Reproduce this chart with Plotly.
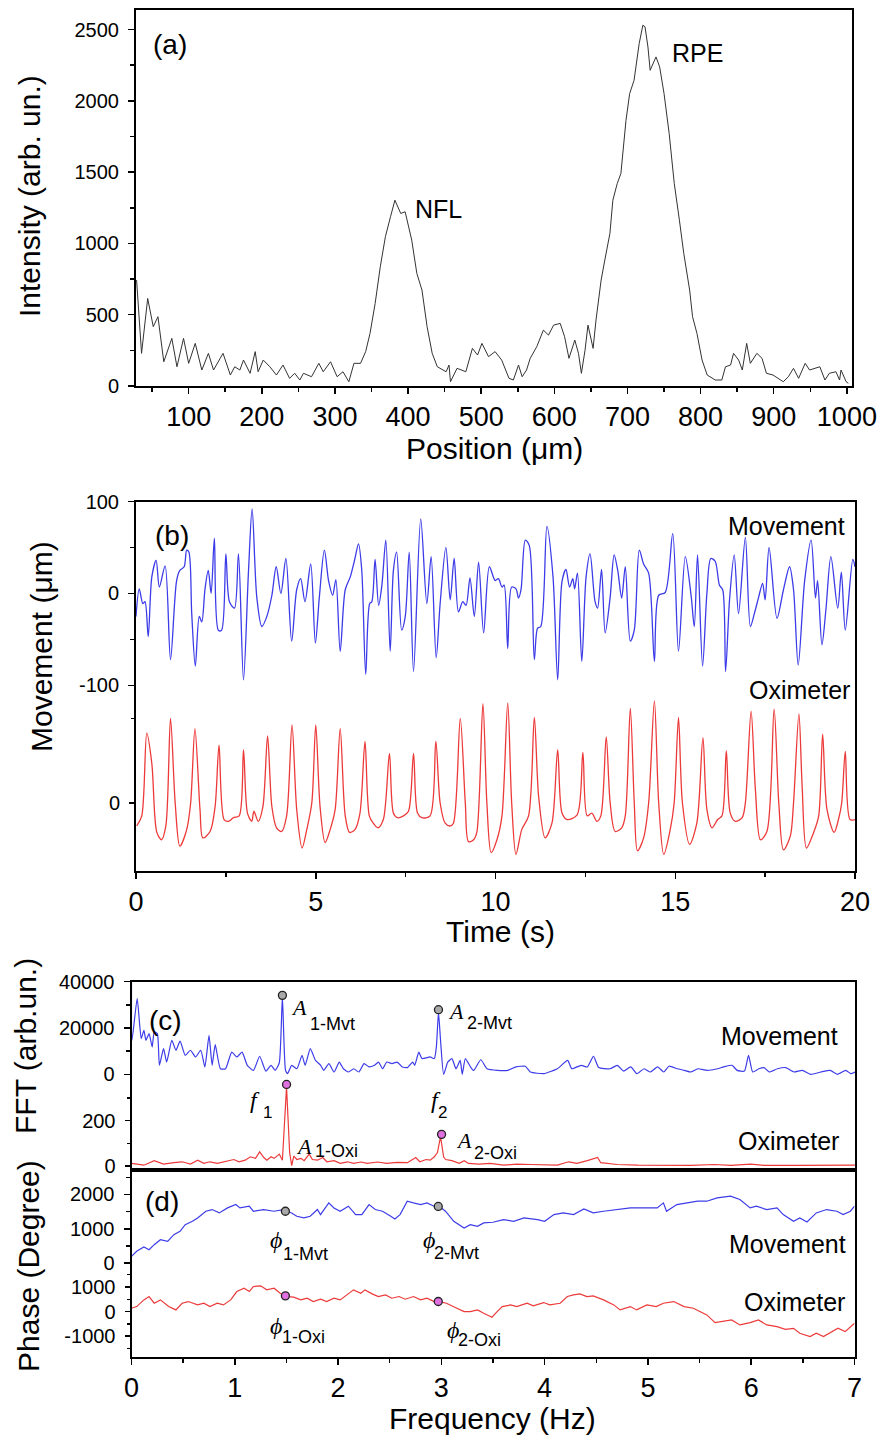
import plotly.graph_objects as go

W, H = 880, 1435

# ---------------- Panel (a): OCT depth profile ----------------
pos_um = [28.8, 35.6, 44, 51.6, 58, 66, 77, 84, 93, 100,
          109, 118, 127, 134, 147, 157, 163, 170, 175, 184,
          191, 195, 202, 211, 220, 229, 238, 245, 252, 257,
          268, 278, 284, 294, 303, 311, 319, 326, 335, 342,
          348, 355, 362, 369, 376, 382, 390, 396, 405, 412,
          419, 426, 433, 440, 452, 456, 458, 467, 479, 488,
          495, 501, 510, 519, 528, 538, 544, 551, 556, 562,
          567, 576, 585, 592, 599, 608, 614, 620, 628, 633,
          637, 642, 646, 653, 657, 664, 669, 676, 680, 686,
          691, 698, 703, 709, 716, 721, 724, 728, 731, 739,
          744, 750, 757, 764, 771, 777, 785, 789, 795, 802,
          809, 820, 829, 834, 841, 845, 852, 857, 863, 868,
          877, 884, 890, 899, 913, 920, 927, 934, 943, 949,
          963, 970, 976, 985, 990, 992, 999, 1002]
intensity = [743, 229, 614, 416, 486, 170, 334, 135, 334, 159,
             299, 112, 229, 112, 229, 77, 135, 112, 182, 89,
             241, 100, 182, 135, 77, 147, 54, 89, 42, 89,
             65, 159, 100, 170, 65, 100, 30, 159, 159, 241,
             369, 579, 836, 1047, 1187, 1303, 1210, 1222, 1023, 790,
             673, 416, 229, 135, 100, 147, 30, 124, 100, 264,
             217, 299, 206, 241, 182, 54, 42, 147, 65, 112,
             194, 276, 392, 357, 427, 439, 346, 194, 322, 229,
             89, 252, 427, 264, 463, 743, 883, 1070, 1303, 1420,
             1490, 1864, 2051, 2144, 2401, 2530, 2519, 2378, 2214, 2308,
             2238, 2051, 1771, 1420, 1163, 929, 673, 486, 369, 182,
             77, 42, 42, 135, 147, 229, 182, 112, 299, 159,
             229, 194, 89, 77, 30, 65, 124, 54, 159, 112,
             135, 42, 89, 100, 42, 112, 30, 19]
a_xticks = [100, 200, 300, 400, 500, 600, 700, 800, 900, 1000]
a_yticks = [0, 500, 1000, 1500, 2000, 2500]

# ---------------- Panel (b): time traces ----------------
mov_t = [0.00, 0.09, 0.19, 0.25, 0.34, 0.44, 0.56, 0.65, 0.81, 0.96,
         1.13, 1.22, 1.34, 1.41, 1.47, 1.55, 1.65, 1.76, 1.83, 1.92,
         2.01, 2.09, 2.18, 2.29, 2.38, 2.50, 2.60, 2.74, 2.85, 2.99,
         3.13, 3.23, 3.36, 3.50, 3.64, 3.78, 3.90, 4.03, 4.17, 4.33,
         4.47, 4.58, 4.70, 4.86, 4.99, 5.10, 5.24, 5.36, 5.47, 5.56,
         5.68, 5.82, 5.96, 6.09, 6.19, 6.28, 6.39, 6.50, 6.56, 6.65,
         6.75, 6.84, 6.95, 7.07, 7.16, 7.25, 7.39, 7.49, 7.60, 7.72,
         7.92, 8.09, 8.21, 8.35, 8.46, 8.62, 8.74, 8.85, 8.97, 9.09,
         9.18, 9.29, 9.41, 9.53, 9.67, 9.83, 9.99, 10.08, 10.18, 10.24,
         10.34, 10.45, 10.57, 10.64, 10.71, 10.83, 10.94, 11.08, 11.17, 11.26,
         11.43, 11.60, 11.73, 11.85, 11.96, 12.06, 12.15, 12.20, 12.28, 12.40,
         12.52, 12.63, 12.77, 12.84, 12.95, 13.05, 13.19, 13.30, 13.40, 13.51,
         13.61, 13.75, 13.86, 14.00, 14.12, 14.26, 14.42, 14.54, 14.72, 14.93,
         15.09, 15.28, 15.44, 15.53, 15.62, 15.76, 15.88, 15.99, 16.11, 16.23,
         16.32, 16.40, 16.51, 16.64, 16.76, 16.95, 17.09, 17.20, 17.32, 17.43,
         17.50, 17.61, 17.83, 18.01, 18.18, 18.29, 18.42, 18.60, 18.78, 18.90,
         18.96, 19.08, 19.19, 19.33, 19.52, 19.62, 19.73, 19.94, 20.00]
mov_um = [-25, 5, -11, -9, -47, 18, 36, 7, 30, -72,
          14, 25, 29, 47, 45, -22, -79, -25, -31, 5,
          25, 0, 60, -40, -40, 43, -9, -16, 43, -94,
          25, 92, -4, -36, -25, -2, 29, 0, 38, -52,
          4, 16, -9, 32, -54, -4, 47, 13, -2, 15,
          -63, 4, 18, 38, 54, 25, -88, -11, -9, 37,
          -13, 9, 58, -63, 25, 45, -40, -25, 45, -85,
          81, -11, 40, -70, -11, 50, -7, 38, -20, -9,
          -13, 17, -25, 34, -43, 29, 14, 16, 7, 9,
          -60, 7, 5, -5, 4, 58, 52, -72, -38, -36,
          73, 18, -94, 13, 26, 7, 16, 5, 22, -74,
          18, 43, -9, -16, 26, -43, -4, 42, 25, -5,
          29, -52, -40, 47, 32, 22, -74, -2, 1, 65,
          -63, 40, -2, -36, 42, -79, 0, 38, 35, 9,
          4, -85, -7, 42, -22, 61, -36, -22, -4, 11,
          -7, 50, -27, 4, 29, 4, -78, 14, 58, -5,
          14, -56, -18, 40, -16, 23, -40, 37, 29]

oxi_t = [0.02, 0.16, 0.30, 0.44, 0.58, 0.71, 0.83, 0.96, 1.09, 1.22,
         1.41, 1.52, 1.64, 1.78, 1.86, 2.06, 2.20, 2.31, 2.45, 2.57,
         2.71, 2.87, 2.99, 3.10, 3.22, 3.28, 3.40, 3.53, 3.66, 3.78,
         3.91, 4.05, 4.19, 4.34, 4.47, 4.62, 4.75, 4.89, 5.00, 5.12,
         5.26, 5.40, 5.54, 5.68, 5.82, 5.94, 6.09, 6.23, 6.37, 6.49,
         6.60, 6.73, 6.88, 7.05, 7.16, 7.27, 7.44, 7.58, 7.72, 7.83,
         7.95, 8.18, 8.34, 8.46, 8.60, 8.74, 8.83, 9.02, 9.16, 9.25,
         9.39, 9.48, 9.65, 9.76, 9.88, 10.04, 10.18, 10.34, 10.45, 10.57,
         10.73, 10.92, 11.08, 11.20, 11.38, 11.57, 11.73, 11.85, 11.99, 12.27,
         12.43, 12.55, 12.68, 12.82, 12.93, 13.08, 13.19, 13.33, 13.51, 13.61,
         13.75, 13.86, 13.95, 14.12, 14.26, 14.42, 14.54, 14.68, 14.86, 14.97,
         15.09, 15.20, 15.40, 15.60, 15.77, 15.88, 16.02, 16.18, 16.30, 16.42,
         16.53, 16.67, 16.86, 16.95, 17.11, 17.23, 17.37, 17.55, 17.75, 17.88,
         18.01, 18.20, 18.29, 18.44, 18.53, 18.65, 18.85, 18.99, 19.10, 19.22,
         19.42, 19.54, 19.63, 19.73, 19.86, 20.00]
oxi_sig = [-25, -14, 76, 43, -32, -40, -25, 92, 0, -47,
           -29, 0, 81, -7, -38, -31, -4, 63, -18, -20,
           -16, -14, 58, -11, -20, -9, -20, -4, 73, -4,
           -27, -31, -14, 85, -7, -49, -29, 0, 85, -4,
           -43, -29, -7, 81, -14, -32, -29, -11, 67, -14,
           -22, -27, -18, 54, -11, -16, -14, -9, 54, -11,
           -16, -14, 67, 0, -22, -25, -22, 92, 0, -42,
           -40, -32, 108, 0, -54, -40, -14, 109, 0, -56,
           -29, -14, 93, 7, -38, -22, 58, -11, -18, -13,
           55, -14, -11, -20, -14, 72, 0, -31, -27, -14,
           103, 0, -52, -38, 0, 111, 0, -56, -29, 0,
           93, 0, -45, -22, 71, -7, -27, -18, -14, 57,
           -11, -20, -16, 0, 100, 14, -40, -31, 102, 0,
           -51, -36, 0, 97, 18, -49, -32, -14, 75, -7,
           -32, -18, 0, 56, -18, -18]
b_xticks = [0, 5, 10, 15, 20]
b_mov_ticks = [-100, 0, 100]
b_mov_ticktext = ["-100", "0", "100"]

# ---------------- Panel (c): FFT amplitude ----------------
fft_mvt_f = [0.000, 0.005, 0.055, 0.094, 0.12, 0.14, 0.17, 0.20, 0.22, 0.25,
             0.27, 0.31, 0.34, 0.39, 0.43, 0.47, 0.52, 0.57, 0.62, 0.67,
             0.71, 0.75, 0.78, 0.81, 0.86, 0.91, 0.97, 1.02, 1.07, 1.12,
             1.18, 1.24, 1.30, 1.35, 1.39, 1.43, 1.46, 1.49, 1.51, 1.55,
             1.60, 1.65, 1.68, 1.73, 1.78, 1.83, 1.86, 1.91, 1.96, 2.01,
             2.05, 2.10, 2.15, 2.20, 2.25, 2.30, 2.35, 2.39, 2.43, 2.47,
             2.52, 2.57, 2.62, 2.67, 2.72, 2.74, 2.78, 2.81, 2.86, 2.89,
             2.93, 2.95, 2.97, 2.99, 3.02, 3.06, 3.10, 3.14, 3.18, 3.20,
             3.23, 3.28, 3.31, 3.38, 3.44, 3.54, 3.64, 3.72, 3.81, 3.86,
             3.99, 4.12, 4.22, 4.26, 4.35, 4.41, 4.47, 4.52, 4.63, 4.70,
             4.76, 4.83, 4.89, 4.96, 5.02, 5.09, 5.15, 5.20, 5.28, 5.35,
             5.41, 5.48, 5.57, 5.67, 5.73, 5.81, 5.86, 5.93, 5.97, 6.01,
             6.07, 6.12, 6.17, 6.25, 6.33, 6.41, 6.49, 6.57, 6.67, 6.76,
             6.83, 6.91, 6.96, 7.00]
fft_mvt = [40000, 14700, 32700, 15400, 19000, 14700, 17600, 11800, 18300, 17600,
           3900, 11100, 5300, 14700, 10400, 14400, 8200, 10400, 7500, 10400,
           3200, 16800, 3900, 12800, 2400, 2400, 9600, 7500, 9600, 3900,
           1700, 7800, 1400, 3900, 1700, 5000, 33500, 1700, 300, 3900,
           2400, 8200, 3900, 11100, 6000, 3900, 1700, 4600, 1000, 5300,
           2400, 1000, 2400, 1000, 4600, 3200, 3900, 5300, 2400, 5300,
           4600, 5300, 3200, 2900, 5300, 3900, 9600, 6800, 7200, 7500,
           6800, 12000, 26800, 14700, 0, 5300, 6800, 2400, 6000, 0,
           6800, 3200, 1700, 6300, 2400, 1700, 1700, 3200, 3500, 1000,
           300, 2400, 6000, 2400, 3900, 3200, 7800, 2900, 2400, 3900,
           1400, 3200, 300, 2400, 1000, 3200, 1000, 3500, 2400, 1700,
           1000, 2400, 1700, 2400, 3200, 3900, 1700, 1400, 8200, 1000,
           2400, 2900, 1000, 2400, 2900, 1000, 1700, 0, 1000, 1700,
           0, 1700, 300, 1000]

fft_oxi_f = [0.00, 0.12, 0.22, 0.31, 0.41, 0.49, 0.57, 0.64, 0.70, 0.76,
             0.83, 0.89, 0.99, 1.04, 1.10, 1.15, 1.20, 1.24, 1.28, 1.31,
             1.35, 1.38, 1.43, 1.46, 1.50, 1.53, 1.55, 1.57, 1.60, 1.64,
             1.67, 1.72, 1.75, 1.80, 1.85, 1.89, 1.96, 2.02, 2.09, 2.15,
             2.22, 2.28, 2.38, 2.47, 2.57, 2.67, 2.75, 2.79, 2.85, 2.89,
             2.93, 2.96, 2.99, 3.02, 3.04, 3.10, 3.17, 3.22, 3.26, 3.36,
             3.47, 3.60, 3.73, 3.86, 3.99, 4.12, 4.23, 4.31, 4.41, 4.51,
             4.54, 4.70, 4.90, 5.15, 5.41, 5.64, 5.80, 5.99, 6.12, 6.44,
             6.76, 7.00]
fft_oxi = [12, 4, 24, 9, 15, 19, 9, 26, 12, 19,
           12, 19, 29, 19, 26, 41, 34, 63, 38, 26,
           41, 34, 53, 26, 350, 60, 2, 44, 29, 34,
           24, 53, 29, 26, 38, 19, 24, 12, 19, 12,
           18, 12, 18, 12, 16, 15, 38, 19, 29, 26,
           41, 60, 130, 40, 29, 24, 12, 24, 12, 9,
           12, 4, 9, 7, 4, 4, 19, 12, 24, 38,
           15, 7, 4, 4, 3, 7, 3, 9, 3, 3,
           3, 4]
c_mvt_ticks = [0, 20000, 40000]
c_mvt_ticktext = ["0", "20000", "40000"]
c_oxi_ticks = [0, 200]

# marked peaks
pk_mvt_f = [1.46, 2.97]
pk_mvt_a = [34100, 27900]
pk_oxi_f = [1.50, 3.00]
pk_oxi_a = [360, 140]

# ---------------- Panel (d): phase ----------------
ph_mvt_f = [0.00, 0.05, 0.12, 0.17, 0.22, 0.28, 0.35, 0.41, 0.47, 0.52,
            0.59, 0.64, 0.72, 0.78, 0.85, 0.93, 1.01, 1.05, 1.14, 1.18,
            1.28, 1.38, 1.47, 1.55, 1.60, 1.67, 1.73, 1.80, 1.83, 1.91,
            1.96, 2.02, 2.10, 2.17, 2.23, 2.30, 2.36, 2.43, 2.51, 2.55,
            2.60, 2.67, 2.73, 2.80, 2.86, 2.93, 2.98, 3.04, 3.12, 3.22,
            3.28, 3.35, 3.41, 3.50, 3.60, 3.70, 3.80, 3.93, 4.00, 4.09,
            4.18, 4.28, 4.38, 4.47, 4.57, 4.70, 4.83, 4.96, 5.09, 5.15,
            5.18, 5.28, 5.38, 5.48, 5.57, 5.67, 5.80, 5.89, 5.99, 6.05,
            6.15, 6.25, 6.31, 6.41, 6.47, 6.54, 6.63, 6.73, 6.83, 6.89,
            6.96, 7.00]
ph_mvt = [195, 341, 468, 390, 536, 682, 634, 829, 926, 1121,
          1218, 1316, 1511, 1560, 1462, 1608, 1706, 1608, 1657, 1511,
          1560, 1511, 1560, 1462, 1365, 1316, 1365, 1560, 1413, 1755,
          1608, 1511, 1657, 1413, 1413, 1706, 1560, 1511, 1365, 1287,
          1413, 1803, 1755, 1706, 1755, 1657, 1657, 1511, 1218, 1023,
          1121, 1072, 1170, 1189, 1267, 1218, 1316, 1267, 1218, 1413,
          1462, 1413, 1579, 1462, 1511, 1560, 1608, 1608, 1608, 1755,
          1511, 1706, 1755, 1803, 1803, 1901, 1950, 1852, 1608, 1657,
          1560, 1608, 1413, 1218, 1316, 1199, 1462, 1560, 1511, 1413,
          1511, 1657]

ph_oxi_f = [0.00, 0.05, 0.12, 0.17, 0.22, 0.28, 0.36, 0.43, 0.49, 0.55,
            0.64, 0.70, 0.76, 0.83, 0.89, 0.96, 1.02, 1.09, 1.14, 1.18,
            1.25, 1.31, 1.38, 1.44, 1.51, 1.57, 1.64, 1.70, 1.76, 1.83,
            1.89, 1.96, 2.02, 2.09, 2.15, 2.22, 2.26, 2.33, 2.39, 2.46,
            2.52, 2.59, 2.65, 2.73, 2.80, 2.86, 2.93, 2.98, 3.05, 3.15,
            3.22, 3.28, 3.35, 3.41, 3.49, 3.54, 3.59, 3.67, 3.73, 3.83,
            3.89, 3.99, 4.05, 4.15, 4.22, 4.28, 4.34, 4.41, 4.47, 4.57,
            4.67, 4.73, 4.83, 4.89, 4.99, 5.08, 5.15, 5.25, 5.35, 5.44,
            5.51, 5.57, 5.65, 5.73, 5.81, 5.89, 5.99, 6.07, 6.15, 6.25,
            6.33, 6.41, 6.47, 6.57, 6.63, 6.70, 6.78, 6.84, 6.91, 6.96,
            7.00]
ph_oxi = [136, 204, 476, 612, 340, 476, 204, 68, 340, 408,
          272, 340, 204, 340, 272, 476, 816, 952, 816, 1020,
          1047, 884, 952, 748, 612, 585, 476, 544, 408, 503,
          408, 544, 476, 680, 884, 748, 884, 721, 612, 680,
          544, 612, 503, 612, 476, 544, 408, 408, 340, 136,
          0, 0, 68, -68, -231, 0, 204, 272, 204, 340,
          231, 367, 272, 340, 612, 680, 721, 612, 639, 476,
          272, 68, 204, 68, 272, 204, 340, 408, 204, 136,
          0, -136, -449, -408, -340, -544, -449, -340, -544, -612,
          -721, -680, -884, -1020, -884, -1020, -816, -680, -816, -612,
          -476]
d_xticks = [0, 1, 2, 3, 4, 5, 6, 7]
d_mvt_ticks = [0, 1000, 2000]
d_oxi_ticks = [-1000, 0, 1000]
d_oxi_ticktext = ["-1000", "0", "1000"]

ph_mk_f = [1.49, 2.97]
ph_mk_mvt = [1510, 1650]
ph_mk_oxi = [640, 410]

# ---------------- styling ----------------
BLUE = "rgb(60,60,232)"
RED = "rgb(236,58,58)"
GREY = "#333333"
SANS = "Liberation Sans, Arial, sans-serif"
SERIF = "Liberation Serif, DejaVu Serif, serif"


def fx(px):
    return px / W


def fy(py):
    return 1 - py / H


fig = go.Figure()

SPL = dict(shape="spline", smoothing=0.85)

fig.add_trace(go.Scatter(x=pos_um, y=intensity, mode="lines",
                         line=dict(color=GREY, width=1), xaxis="x", yaxis="y"))
fig.add_trace(go.Scatter(x=mov_t, y=mov_um, mode="lines",
                         line=dict(color=BLUE, width=1.3, **SPL), xaxis="x2", yaxis="y2"))
fig.add_trace(go.Scatter(x=oxi_t, y=oxi_sig, mode="lines",
                         line=dict(color=RED, width=1.3, **SPL), xaxis="x2", yaxis="y3"))
fig.add_trace(go.Scatter(x=fft_mvt_f, y=fft_mvt, mode="lines",
                         line=dict(color=BLUE, width=1.2, shape="spline", smoothing=0.5),
                         xaxis="x3", yaxis="y4"))
fig.add_trace(go.Scatter(x=fft_oxi_f, y=fft_oxi, mode="lines",
                         line=dict(color=RED, width=1.2), xaxis="x3", yaxis="y5"))
fig.add_trace(go.Scatter(x=pk_mvt_f, y=pk_mvt_a, mode="markers",
                         marker=dict(size=8, color="#a9a9a9", line=dict(color="#222", width=1.3)),
                         xaxis="x3", yaxis="y4"))
fig.add_trace(go.Scatter(x=pk_oxi_f, y=pk_oxi_a, mode="markers",
                         marker=dict(size=8, color="#e070e0", line=dict(color="#222", width=1.3)),
                         xaxis="x3", yaxis="y5"))
fig.add_trace(go.Scatter(x=ph_mvt_f, y=ph_mvt, mode="lines",
                         line=dict(color=BLUE, width=1.2), xaxis="x4", yaxis="y6"))
fig.add_trace(go.Scatter(x=ph_oxi_f, y=ph_oxi, mode="lines",
                         line=dict(color=RED, width=1.2), xaxis="x4", yaxis="y7"))
fig.add_trace(go.Scatter(x=ph_mk_f, y=ph_mk_mvt, mode="markers",
                         marker=dict(size=8, color="#a9a9a9", line=dict(color="#222", width=1.3)),
                         xaxis="x4", yaxis="y6"))
fig.add_trace(go.Scatter(x=ph_mk_f, y=ph_mk_oxi, mode="markers",
                         marker=dict(size=8, color="#e070e0", line=dict(color="#222", width=1.3)),
                         xaxis="x4", yaxis="y7"))


def ax(domain, rng, tickvals, minor_vals, size, anchor, show=True, line=True,
       ticktext=None, standoff=0):
    d = dict(domain=domain, range=rng, anchor=anchor, automargin=False,
             showline=line, linecolor="black", linewidth=2, mirror=line,
             showgrid=False, zeroline=False,
             ticks="outside" if show else "", ticklen=6, tickwidth=1.5, tickcolor="black",
             tickmode="array", tickvals=tickvals,
             ticktext=ticktext if ticktext is not None else [str(v) for v in tickvals],
             showticklabels=show, ticklabelstandoff=standoff,
             tickfont=dict(family=SANS, size=size, color="black"),
             minor=dict(tickmode="array", tickvals=minor_vals, ticks="outside" if show else "",
                        ticklen=4, tickwidth=1.5, tickcolor="black"))
    return d


layout = dict(
    width=W, height=H, autosize=False,
    margin=dict(l=0, r=0, t=0, b=0, pad=0),
    paper_bgcolor="white", plot_bgcolor="white",
    showlegend=False,
)

YS = 5  # extra gap between y tick labels and axis

# (a)
layout["xaxis"] = ax([fx(136), fx(852)], [28, 1007], a_xticks,
                     [50, 150, 250, 350, 450, 550, 650, 750, 850, 950], 27, "y")
layout["yaxis"] = ax([fy(386), fy(10)], [0, 2637], a_yticks,
                     [250, 750, 1250, 1750, 2250], 20, "x", standoff=YS)
# (b)
layout["xaxis2"] = ax([fx(136), fx(855)], [0, 20], b_xticks,
                      [2.5, 7.5, 12.5, 17.5], 27, "y2")
layout["yaxis2"] = ax([fy(871), fy(501.5)], [-302, 100], b_mov_ticks,
                      [-50, 50], 20, "x2", ticktext=b_mov_ticktext, standoff=YS)
layout["yaxis3"] = ax([fy(871), fy(501.5)], [-74, 328], [0], [92], 20, "x2", line=False,
                      standoff=YS)
layout["yaxis3"]["overlaying"] = "y2"
# (c)
layout["xaxis3"] = ax([fx(131.5), fx(855)], [0, 7], [], [], 27, "y4", show=False)
layout["yaxis4"] = ax([fy(1169.5), fy(981.7)], [-41100, 40000], c_mvt_ticks,
                      [10000, 30000], 20, "x3", ticktext=c_mvt_ticktext, standoff=YS)
layout["yaxis5"] = ax([fy(1169.5), fy(981.7)], [-15, 813], c_oxi_ticks, [100, 300], 20, "x3",
                      line=False, standoff=YS)
layout["yaxis5"]["overlaying"] = "y4"
# (d)
layout["xaxis4"] = ax([fx(131.5), fx(854.5)], [0, 7], d_xticks,
                      [0.5, 1.5, 2.5, 3.5, 4.5, 5.5, 6.5], 27, "y6")
layout["yaxis6"] = ax([fy(1356.7), fy(1169.5)], [-2731, 2728], d_mvt_ticks,
                      [500, 1500, 2500], 20, "x4", standoff=YS)
layout["yaxis7"] = ax([fy(1356.7), fy(1169.5)], [-1837, 5784], d_oxi_ticks,
                      [-1500, -500, 500, 1500], 20, "x4", line=False, ticktext=d_oxi_ticktext,
                      standoff=YS)
layout["yaxis7"]["overlaying"] = "y6"

fig.update_layout(**layout)

anns = []


def txt(text, px, py, size, family=SANS, angle=0, xanchor="center"):
    anns.append(dict(text=text, x=fx(px), y=fy(py), xref="paper", yref="paper",
                     showarrow=False, xanchor=xanchor, yanchor="middle", textangle=angle,
                     font=dict(family=family, size=size, color="black")))


# axis titles
txt("Intensity (arb. un.)", 29, 196, 30, angle=-90)
txt("Position (\u03bcm)", 494, 449, 30)
txt("Movement (\u03bcm)", 41, 647, 30, angle=-90)
txt("Time (s)", 500, 931, 30)
txt("FFT (arb.un.)", 25, 1046, 30, angle=-90)
txt("Phase (Degree)", 28, 1266, 30, angle=-90)
txt("Frequency (Hz)", 493, 1418, 30)

# panel labels and series names
txt("(a)", 170, 45, 28)
txt("NFL", 438, 209, 25)
txt("RPE", 697, 53, 25)
txt("(b)", 172, 536, 28)
txt("Movement", 786, 526, 25)
txt("Oximeter", 799, 690, 25)
txt("(c)", 165, 1020, 28)
txt("Movement", 779, 1036, 25)
txt("Oximeter", 788, 1141, 25)
txt("(d)", 162, 1201, 28)
txt("Movement", 787, 1244, 25)
txt("Oximeter", 794, 1302, 25)

# symbol labels (italic serif letter + sans subscript)
txt("<i>A</i>", 299, 1008, 22, SERIF)
txt("1-Mvt", 332, 1024, 18)
txt("<i>A</i>", 456, 1011, 22, SERIF)
txt("2-Mvt", 490, 1023, 18)
txt("<i>f</i>", 255, 1100, 24, SERIF)
txt("1", 267, 1112, 17)
txt("<i>f</i>", 436, 1100, 24, SERIF)
txt("2", 442, 1112, 17)
txt("<i>A</i>", 304, 1146, 22, SERIF)
txt("1-Oxi", 336, 1151, 18)
txt("<i>A</i>", 464, 1140, 22, SERIF)
txt("2-Oxi", 496, 1153, 18)
txt("<i>\u03d5</i>", 276, 1240, 24, SERIF)
txt("1-Mvt", 305, 1254, 18)
txt("<i>\u03d5</i>", 429, 1240, 24, SERIF)
txt("2-Mvt", 456, 1253, 18)
txt("<i>\u03d5</i>", 276, 1326, 24, SERIF)
txt("1-Oxi", 303, 1337, 18)
txt("<i>\u03d5</i>", 453, 1330, 24, SERIF)
txt("2-Oxi", 480, 1340, 18)

fig.update_layout(annotations=anns)
fig.write_html("out.html",
               config={"displayModeBar": False, "staticPlot": True},
               post_script="document.body.style.margin='0';"
                           "document.body.style.overflow='hidden';")
